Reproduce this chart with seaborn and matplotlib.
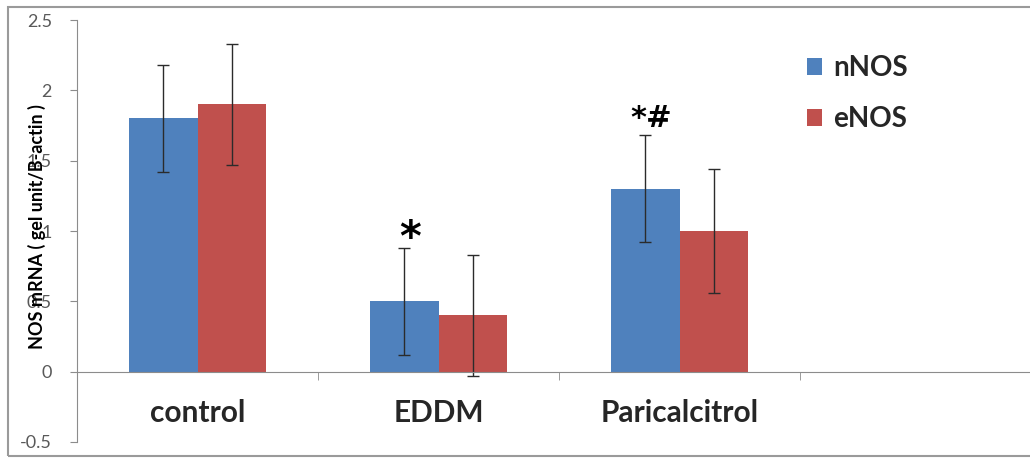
import numpy as np
import pandas as pd
import matplotlib
matplotlib.use("Agg")
import matplotlib.pyplot as plt
import seaborn as sns
from matplotlib.patches import Rectangle

# values
groups = ["control", "EDDM", "Paricalcitrol"]
series = ["nNOS", "eNOS"]
nnos_mean = [1.80, 0.50, 1.30]
enos_mean = [1.90, 0.40, 1.00]
nnos_err = [0.38, 0.38, 0.38]
enos_err = [0.43, 0.43, 0.44]
marks = ["", "*", "*#"]  # significance marks over nNOS bars

df = pd.DataFrame({
    "group": groups * 2,
    "series": ["nNOS"] * 3 + ["eNOS"] * 3,
    "value": nnos_mean + enos_mean,
})
errs = {"nNOS": nnos_err, "eNOS": enos_err}
# font size and little vertical nudge for each mark
mark_style = {"*": (30, -0.085), "*#": (22, 0.02)}

sns.set_style("white")
plt.rcParams["font.family"] = ["Lato", "DejaVu Sans"]

fig = plt.figure(figsize=(10.3, 4.58), dpi=100)
ax = fig.add_axes([77 / 1030, 1 - 442 / 458, 953 / 1030, 422 / 458])

sns.barplot(data=df, x="group", y="value", hue="series", order=groups,
            hue_order=series, palette=["#4F81BD", "#C0504D"], width=0.57,
            errorbar=None, saturation=1, linewidth=0, ax=ax)

# error bars at the bar centres seaborn chose
for cont, name in zip(ax.containers, series):
    xs = [p.get_x() + p.get_width() / 2 for p in cont.patches]
    ys = [p.get_height() for p in cont.patches]
    ax.errorbar(xs, ys, yerr=errs[name], fmt="none", ecolor="#2b2b2b",
                elinewidth=1, capsize=4, capthick=1)
    if name == "nNOS":
        for x, y, e, m in zip(xs, ys, errs[name], marks):
            if m:
                fs, dy = mark_style[m]
                ax.text(x + 0.025, y + e + dy, m, ha="center", va="bottom",
                        fontsize=fs, fontweight="bold", color="black",
                        family="DejaVu Sans")

ax.set_xlim(-0.5, -0.5 + 953 / 241)
ax.set_ylim(-0.5, 2.5)
ax.set_yticks([-0.5, 0, 0.5, 1, 1.5, 2, 2.5])
ax.set_yticklabels(["-0.5", "0", "0.5", "1", "1.5", "2", "2.5"])

for s in ["top", "right"]:
    ax.spines[s].set_visible(False)
ax.spines["left"].set_color("#8c8c8c")
ax.spines["bottom"].set_color("#8c8c8c")
ax.spines["bottom"].set_position(("data", 0))

ax.tick_params(axis="y", direction="out", length=5, color="#8c8c8c",
               labelsize=13, labelcolor="#595959", left=True, pad=13)
ax.set_xticks([0.5, 1.5, 2.5], minor=True)
ax.tick_params(axis="x", which="minor", direction="out", length=6,
               color="#8c8c8c", bottom=True)
ax.tick_params(axis="x", which="major", length=0, pad=20, labelsize=21.5)
for lab in ax.get_xticklabels():
    lab.set_fontweight("bold")

ax.set_xlabel("")
ax.set_ylabel("NOS mRNA ( gel unit/B-actin )", fontsize=13,
              fontweight="bold", color="black")
ax.yaxis.set_label_coords(-0.033, 0.51)

ax.legend(loc="upper left", bbox_to_anchor=(0.766, 0.916), borderaxespad=0,
          borderpad=0, frameon=False, handlelength=0.55, handleheight=0.55,
          handletextpad=0.38, labelspacing=0.9,
          prop={"weight": "bold", "size": 20})

fig.patches.append(Rectangle((8 / 1030, 1 - 456 / 458), 1.2, 449 / 458,
                             transform=fig.transFigure, fill=False,
                             edgecolor="#9a9a9a", linewidth=1.5))

fig.savefig("out.png", dpi=100)
